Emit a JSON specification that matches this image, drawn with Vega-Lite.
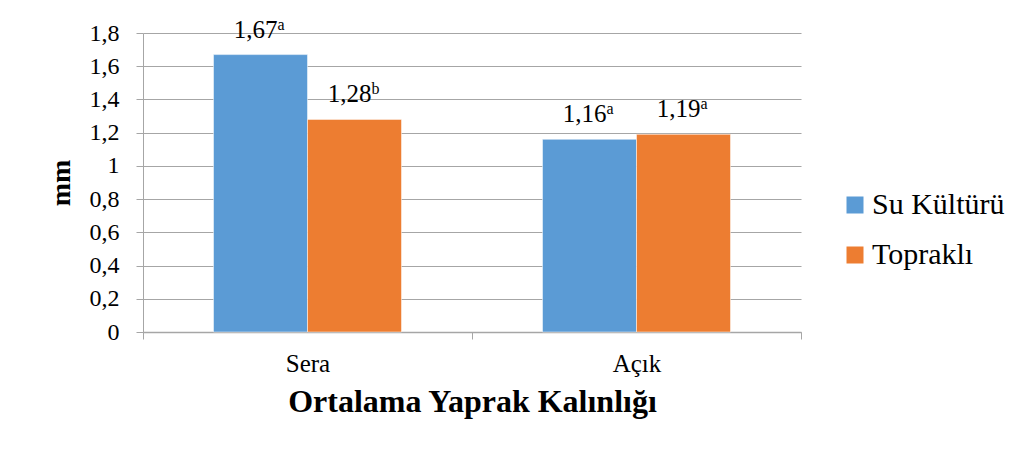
{
  "$schema": "https://vega.github.io/schema/vega-lite/v6.json",
  "width": 658,
  "height": 299,
  "autosize": "none",
  "padding": {"left": 143, "top": 33, "right": 226, "bottom": 121},
  "background": "white",
  "config": {
    "font": "Liberation Serif",
    "view": {"stroke": null},
    "axis": {"labelFont": "Liberation Serif", "titleFont": "Liberation Serif", "labelColor": "black", "titleColor": "black", "domainColor": "#a6a6a6", "tickColor": "#a6a6a6", "gridColor": "#a6a6a6"}
  },
  "data": {
    "values": [
      {"grup": "Sera", "seri": "Su Kültürü", "deger": 1.67, "etiket": "1,67", "harf": "a"},
      {"grup": "Sera", "seri": "Topraklı", "deger": 1.28, "etiket": "1,28", "harf": "b"},
      {"grup": "Açık", "seri": "Su Kültürü", "deger": 1.16, "etiket": "1,16", "harf": "a"},
      {"grup": "Açık", "seri": "Topraklı", "deger": 1.19, "etiket": "1,19", "harf": "a"}
    ]
  },
  "encoding": {
    "x": {
      "field": "grup", "type": "nominal", "sort": ["Sera", "Açık"],
      "scale": {"paddingInner": 0, "paddingOuter": 0},
      "axis": {
        "title": "Ortalama Yaprak Kalınlığı", "titleFontSize": 32, "titleFontWeight": "bold", "titlePadding": 10,
        "labelAngle": 0, "labelFontSize": 25, "labelPadding": 12, "tickBand": "extent", "tickSize": 7, "domainWidth": 1.5
      }
    },
    "xOffset": {"field": "seri", "type": "nominal", "sort": ["Su Kültürü", "Topraklı"], "scale": {"paddingInner": 0, "paddingOuter": 0.75}},
    "y": {
      "field": "deger", "type": "quantitative",
      "scale": {"domain": [0, 1.8], "nice": false},
      "axis": {
        "title": "mm", "titleFontSize": 28, "titleFontWeight": "bold", "titlePadding": 14,
        "values": [0, 0.2, 0.4, 0.6, 0.8, 1, 1.2, 1.4, 1.6, 1.8],
        "labelExpr": "replace(format(datum.value, '.1~f'), '.', ',')",
        "labelFontSize": 24, "labelPadding": 17, "tickSize": 7, "grid": true, "gridWidth": 1.2
      }
    }
  },
  "layer": [
    {
      "mark": {"type": "bar", "stroke": "white", "strokeWidth": 0.5},
      "encoding": {
        "color": {
          "field": "seri", "type": "nominal", "sort": ["Su Kültürü", "Topraklı"],
          "scale": {"domain": ["Su Kültürü", "Topraklı"], "range": ["#5b9bd5", "#ed7d31"]},
          "legend": {
            "title": null, "orient": "none", "legendX": 697, "legendY": 157,
            "labelFont": "Liberation Serif", "labelFontSize": 30, "labelColor": "black",
            "symbolType": "square", "symbolSize": 289, "symbolStrokeWidth": 0, "rowPadding": 20, "labelOffset": 2
          }
        }
      }
    },
    {
      "mark": {"type": "text", "fontSize": 25, "align": "center", "baseline": "alphabetic", "dx": -5, "dy": -17, "color": "black"},
      "encoding": {"text": {"field": "etiket"}}
    },
    {
      "mark": {"type": "text", "fontSize": 16, "align": "left", "baseline": "alphabetic", "dx": 17, "dy": -25, "color": "black"},
      "encoding": {"text": {"field": "harf"}}
    }
  ]
}
